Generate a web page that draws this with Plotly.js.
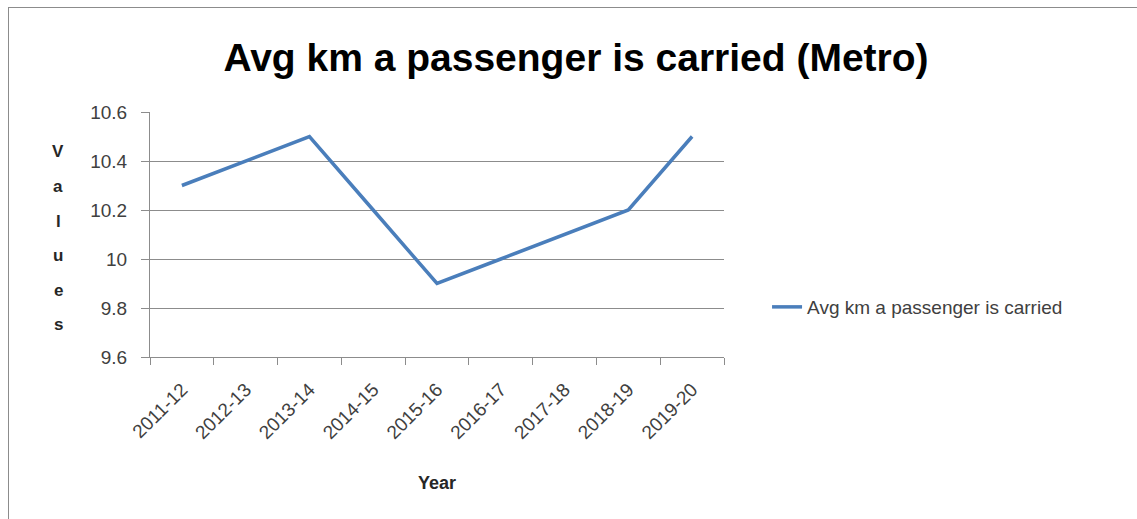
<!DOCTYPE html>
<html>
<head>
<meta charset="utf-8">
<script src="https://cdn.plot.ly/plotly-3.0.1.min.js"></script>
<style>
  html, body { margin: 0; padding: 0; background: #fff; }
  #wrap { position: relative; width: 1137px; height: 519px; overflow: hidden; }
  #chart { position: absolute; left: 0; top: 0; width: 1137px; height: 519px; }
  #frame { position: absolute; left: 8px; top: 7px; width: 1140px; height: 530px;
           border-left: 1px solid #8c8c8c; border-top: 1px solid #8c8c8c; pointer-events: none; }
</style>
</head>
<body>
<div id="wrap">
  <div id="chart"></div>
  <div id="frame"></div>
</div>
<script>
const years = ["2011-12","2012-13","2013-14","2014-15","2015-16","2016-17","2017-18","2018-19","2019-20"];
const avgKm = [10.3, 10.4, 10.5, 10.2, 9.9, 10.0, 10.1, 10.2, 10.5];
const seriesName = "Avg km a passenger is carried";
const chartTitle = "Avg km a passenger is carried (Metro)";
const xTitle = "Year";
const yTitle = "Values";

const FONT = "Liberation Sans, Arial, sans-serif";

const trace = {
  type: "scatter",
  mode: "lines",
  x: years,
  y: avgKm,
  name: seriesName,
  line: { color: "#4A7EBB", width: 3.5 },
  showlegend: true
};

// stacked vertical letters for the y-axis title
const letterAnnotations = yTitle.split("").map((ch, i) => ({
  text: "<b>" + ch + "</b>",
  xref: "paper", yref: "paper",
  x: -0.160, y: 0.837 - i * 0.1412,
  xanchor: "center", yanchor: "middle",
  showarrow: false,
  font: { family: FONT, size: 17, color: "#262626" }
}));

const layout = {
  width: 1137,
  height: 519,
  margin: { l: 150, r: 413, t: 112, b: 162 },
  paper_bgcolor: "#ffffff",
  plot_bgcolor: "#ffffff",
  font: { family: FONT, color: "#404040" },
  title: {
    text: "<b>" + chartTitle + "</b>",
    font: { family: FONT, size: 39, color: "#000000" },
    x: 576 / 1137, xref: "container", xanchor: "center",
    y: 1 - 57 / 519, yref: "container", yanchor: "middle"
  },
  xaxis: {
    type: "category",
    range: [-0.5, 8.5],
    showgrid: false,
    showline: true,
    linecolor: "#8c8c8c",
    linewidth: 1,
    ticks: "outside",
    ticklen: 7,
    tickcolor: "#8c8c8c",
    tickson: "boundaries",
    tickangle: -45,
    ticklabelstandoff: 13,
    tickfont: { family: FONT, size: 19, color: "#404040" },
    title: { text: "<b>" + xTitle + "</b>", font: { family: FONT, size: 18, color: "#262626" }, standoff: 34 },
    zeroline: false,
    fixedrange: true
  },
  yaxis: {
    range: [9.6, 10.6],
    dtick: 0.2,
    tick0: 9.6,
    showgrid: true,
    gridcolor: "#8c8c8c",
    gridwidth: 1,
    showline: true,
    linecolor: "#8c8c8c",
    ticks: "outside",
    ticklen: 8,
    tickcolor: "#8c8c8c",
    ticklabelstandoff: 10,
    tickfont: { family: FONT, size: 19, color: "#404040" },
    zeroline: false,
    fixedrange: true
  },
  annotations: letterAnnotations,
  legend: {
    x: 1.075, xanchor: "left",
    y: 0.204, yanchor: "middle",
    font: { family: FONT, size: 19, color: "#404040" },
    bgcolor: "rgba(0,0,0,0)"
  },
  showlegend: true
};

Plotly.newPlot("chart", [trace], layout, { displayModeBar: false, staticPlot: true });
</script>
</body>
</html>
